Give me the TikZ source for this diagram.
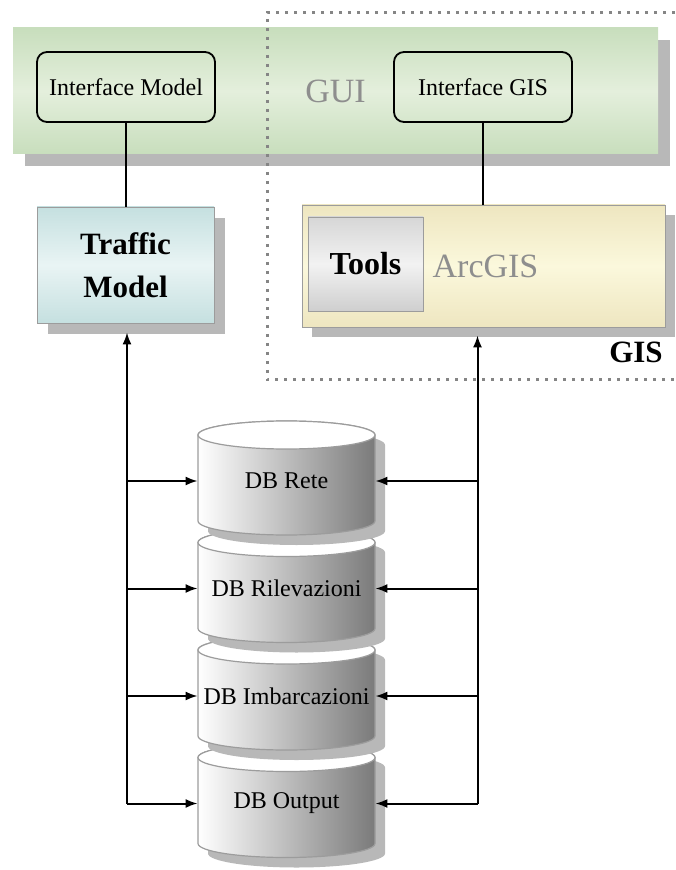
\documentclass[tikz,border=0pt]{standalone}
\usepackage{fontspec}
\setmainfont{Liberation Serif}
\usetikzlibrary{arrows.meta,shadows}

\definecolor{bandgreen}{HTML}{C8DEBD}
\definecolor{bandlight}{HTML}{E4EFDC}
\definecolor{tealedge}{HTML}{C5E0E0}
\definecolor{teallight}{HTML}{E9F4F4}
\definecolor{sandedge}{HTML}{EEE6C0}
\definecolor{sandlight}{HTML}{FBF8DC}
\definecolor{labelgrey}{HTML}{8E8E8E}
\definecolor{shadowgrey}{HTML}{B8B8B8}
\definecolor{edgegrey}{HTML}{9C9C9C}

\begin{document}
\begin{tikzpicture}
[
    x=0.5pt,
    y=-0.5pt,
    conn/.style={line width=1pt,-{Latex[length=6pt,width=4.5pt]}},
    link/.style={line width=1pt},
    iface/.style={draw,rounded corners=5pt,line width=0.9pt,
        minimum width=89pt,minimum height=35pt,
        font=\fontsize{12}{14}\selectfont},
    dbtext/.style={minimum width=88.5pt,inner sep=0pt,
        font=\fontsize{12}{14}\selectfont},
    greyshadow/.style={drop shadow={shadow xshift=#1,shadow yshift=-#1,
        fill=shadowgrey,opacity=1}},
]
\useasboundingbox (0,0) rectangle (675,870);

% Green band
\node
[
    greyshadow=6pt,
    top color=bandgreen,
    bottom color=bandgreen,
    middle color=bandlight,
    minimum width=322.5pt,
    minimum height=63pt,
    text=labelgrey,
    font=\fontsize{17}{20}\selectfont
] (gui) at (335.5,91) {GUI};

% Dotted GIS frame
\draw
[
    draw=black!48,
    line width=1.5pt,
    dash pattern=on 1.5pt off 3pt
] (675,13) -- (267,13) -- (267,380) -- (675,380);

\node[iface] (imodel) at (126,87) {Interface Model};
\node[iface] (igis) at (483,87) {Interface GIS};

% Model and GIS boxes
\node
[
    greyshadow=5.5pt,
    draw=edgegrey,
    top color=tealedge,
    bottom color=tealedge,
    middle color=teallight,
    minimum width=88.5pt,
    minimum height=58pt,
    align=center,
    font=\fontsize{15.5}{21.5}\selectfont\bfseries
] (traffic) at (125.5,265) {Traffic\\Model};

\node
[
    greyshadow=5pt,
    draw=edgegrey,
    top color=sandedge,
    bottom color=sandedge,
    middle color=sandlight,
    minimum width=181.5pt,
    minimum height=61pt,
    text=labelgrey,
    font=\fontsize{17}{20}\selectfont
] (arcgis) at (483.5,266) {\hspace*{2pt}ArcGIS};

\node
[
    draw=edgegrey,
    top color=black!16,
    bottom color=black!19,
    middle color=black!5,
    minimum width=57.5pt,
    minimum height=47pt,
    font=\fontsize{16}{19}\selectfont\bfseries
] (tools) at (365.5,264) {Tools};

\node[font=\fontsize{15.5}{18}\selectfont\bfseries] (gislabel) at (636,352) {GIS};

\draw[link] (imodel.south) -- (imodel.south |- traffic.north);
\draw[link] (igis.south) -- (igis.south |- arcgis.north);

% Database stack
\foreach \name/\ym/\txt in {output/800.5/DB Output,imbarc/693/DB Imbarcazioni,
    ril/585.5/DB Rilevazioni,rete/478/DB Rete}
{
    \fill[shadowgrey] (208,\ym-33) -- (208,\ym+53)
        arc[start angle=180,end angle=360,x radius=44.25pt,y radius=7pt]
        -- (385,\ym-33)
        arc[start angle=0,end angle=180,x radius=44.25pt,y radius=7pt] -- cycle;
    \path[draw=edgegrey,line width=0.6pt,left color=white,right color=black!52]
        (198,\ym-43) -- (198,\ym+43)
        arc[start angle=180,end angle=360,x radius=44.25pt,y radius=7pt]
        -- (375,\ym-43)
        arc[start angle=0,end angle=180,x radius=44.25pt,y radius=7pt] -- cycle;
    \draw[edgegrey,line width=0.6pt,fill=white] (286.5,\ym-43)
        ellipse[x radius=44.25pt,y radius=7pt];
    \node[dbtext] (\name) at (286.5,\ym+3) {\txt};
}

% Buses
\coordinate (lbus) at (127,803.5);
\coordinate (rbus) at (477.5,803.5);
\draw[conn] (lbus) -- ([yshift=-4.5pt]lbus |- traffic.south);
\draw[conn] (rbus) -- ([yshift=-4pt]rbus |- arcgis.south);
\foreach \name in {rete,ril,imbarc,output}
{
    \draw[conn] (lbus |- \name.west) -- (\name.west);
    \draw[conn] (rbus |- \name.east) -- (\name.east);
}
\end{tikzpicture}
\end{document}
